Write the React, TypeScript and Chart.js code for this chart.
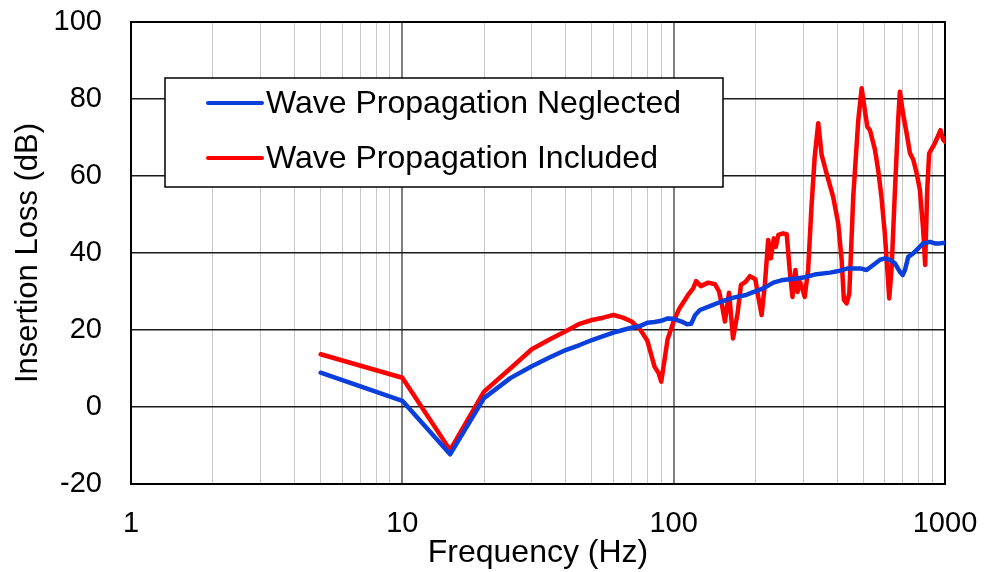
import React, { useEffect, useRef } from "react";
import { Chart, registerables } from "chart.js";

Chart.register(...registerables);

// Frequency response, wave propagation neglected (blue)
const neglectedFreq = [
  5, 10, 15, 20, 25, 30, 35, 40, 45, 50, 55, 60, 65, 70, 75, 80, 85, 90, 95, 100,
  107, 112, 116, 120, 125, 136, 150, 166, 185, 191, 214, 233, 253, 284, 304, 336,
  377, 410, 439, 486, 514, 544, 575, 600, 626, 654, 682, 698, 712, 732, 763, 797,
  831, 880, 918, 958, 1000,
];
const neglectedLoss = [
  8.9, 1.6, -12.3, 2.3, 7.5, 10.6, 12.9, 14.8, 16.1, 17.4, 18.4, 19.3, 20.0, 20.6, 21.0, 21.9, 22.1, 22.4, 23.0, 22.9,
  22.2, 21.5, 21.6, 23.9, 25.2, 26.2, 27.4, 28.4, 29.1, 29.5, 30.8, 32.3, 33.0, 33.4, 33.7, 34.5,
  34.9, 35.4, 36.0, 36.0, 35.6, 36.9, 38.2, 38.6, 38.2, 37.3, 35.1, 34.3, 35.6, 39.0, 39.9, 41.2,
  42.5, 42.9, 42.5, 42.5, 42.7,
];

// Frequency response, wave propagation included (red)
const includedFreq = [
  5, 10, 15, 20, 25, 30, 35, 40, 45, 50, 55, 60, 65, 70, 75, 80, 85, 88, 90, 95,
  100, 105, 113, 118, 121, 126, 134, 142, 147, 151, 154.5, 160, 165.5, 172, 177, 184, 191, 200,
  205, 211, 217, 223, 228, 234, 238, 243, 253, 261, 267, 274, 281, 286, 292, 298,
  304, 313, 322, 331, 341, 351, 366, 387, 404, 416, 424, 434, 444, 459, 479, 493,
  517, 529, 552, 567, 583, 600, 612, 623, 636, 654, 672, 682, 700, 722, 743, 764,
  786, 808, 831, 845, 860, 874, 917, 963, 985, 1000,
];
const includedLoss = [
  13.7, 7.6, -11.2, 4.0, 10.0, 15.0, 17.6, 19.7, 21.6, 22.6, 23.2, 23.9, 23.2, 22.2, 20.3, 17.2, 10.5, 8.8, 6.6, 17.6,
  22.3, 25.6, 29.1, 30.8, 32.7, 31.4, 32.3, 31.9, 30.0, 26.1, 22.2, 29.7, 17.8, 24.3, 31.7, 32.5, 34.0, 33.2,
  28.6, 23.9, 32.1, 43.4, 38.6, 43.8, 41.6, 44.7, 45.1, 44.9, 36.4, 28.6, 35.6, 29.9, 32.5, 30.8,
  28.6, 35.6, 52.0, 65.0, 73.7, 65.5, 60.7, 54.6, 47.7, 38.2, 27.8, 26.9, 29.5, 54.6, 74.5, 82.8,
  72.8, 71.9, 66.8, 61.6, 54.6, 45.1, 36.4, 28.2, 36.4, 56.4, 74.5, 81.9, 76.3, 71.1, 65.9, 64.2,
  60.7, 56.4, 46.0, 36.9, 56.4, 65.9, 68.5, 71.9, 69.4, 68.9,
];

const seriesLabels = ["Wave Propagation Neglected", "Wave Propagation Included"];
const seriesColors = ["#0A3FDD", "#FF0000"];

// Axis ranges and labelled ticks
const xLabelledTicks = [1, 10, 100, 1000];
const yMin = -20;
const yMax = 100;
const yStep = 20;

const FONT = "'Liberation Sans', Arial, sans-serif";

const toPoints = (xs: number[], ys: number[]) => xs.map((x, i) => ({ x, y: ys[i] }));

// Drop the automatic label-overflow padding so the layout padding alone sets the plot area
const noAutoPadding = (scale: any) => {
  scale.paddingTop = 0;
  scale.paddingBottom = 0;
  scale.paddingLeft = 0;
  scale.paddingRight = 0;
};

// Black frame around the plot area
const plotFrame = {
  id: "plotFrame",
  beforeDatasetsDraw(chart: any) {
    const { ctx, chartArea } = chart;
    ctx.save();
    ctx.strokeStyle = "#000";
    ctx.lineWidth = 2;
    ctx.strokeRect(chartArea.left, chartArea.top, chartArea.right - chartArea.left, chartArea.bottom - chartArea.top);
    ctx.restore();
  },
};

// Boxed legend sitting inside the plot area
const insetLegend = {
  id: "insetLegend",
  afterDraw(chart: any) {
    const { ctx } = chart;
    const box = { x: 165, y: 78, w: 558, h: 109 };
    ctx.save();
    ctx.fillStyle = "#fff";
    ctx.fillRect(box.x, box.y, box.w, box.h);
    ctx.strokeStyle = "#000";
    ctx.lineWidth = 1.5;
    ctx.strokeRect(box.x, box.y, box.w, box.h);
    ctx.font = `32px ${FONT}`;
    ctx.textBaseline = "middle";
    ctx.textAlign = "left";
    const rows = [103, 158];
    chart.data.datasets.forEach((ds: any, i: number) => {
      const y = rows[i];
      ctx.strokeStyle = ds.borderColor;
      ctx.lineWidth = 4;
      ctx.lineCap = "round";
      ctx.beginPath();
      ctx.moveTo(208, y);
      ctx.lineTo(262, y);
      ctx.stroke();
      ctx.fillStyle = "#000";
      ctx.fillText(ds.label, 266, y + 1);
    });
    ctx.restore();
  },
};

export default function App() {
  const canvasRef = useRef<HTMLCanvasElement | null>(null);

  useEffect(() => {
    const canvas = canvasRef.current;
    if (!canvas) return;

    const lineStyle = {
      borderWidth: 4.5,
      pointRadius: 0,
      tension: 0,
      borderJoinStyle: "round" as const,
      borderCapStyle: "round" as const,
    };

    const chart = new Chart(canvas, {
      type: "line",
      data: {
        datasets: [
          {
            label: seriesLabels[0],
            data: toPoints(neglectedFreq, neglectedLoss),
            borderColor: seriesColors[0],
            backgroundColor: seriesColors[0],
            ...lineStyle,
          },
          {
            label: seriesLabels[1],
            data: toPoints(includedFreq, includedLoss),
            borderColor: seriesColors[1],
            backgroundColor: seriesColors[1],
            ...lineStyle,
          },
        ],
      },
      options: {
        responsive: false,
        animation: false,
        devicePixelRatio: 1,
        layout: { padding: { top: 22, right: 41, left: 0, bottom: 0 } },
        plugins: {
          legend: { display: false },
          tooltip: { enabled: false },
        },
        scales: {
          x: {
            type: "logarithmic",
            min: 1,
            max: 1000,
            afterBuildTicks(scale: any) {
              const ticks: { value: number }[] = [];
              for (let d = 1; d < 1000; d *= 10) {
                for (let m = 1; m < 10; m++) ticks.push({ value: m * d });
              }
              ticks.push({ value: 1000 });
              scale.ticks = ticks;
            },
            afterFit(scale: any) {
              scale.height = 88;
              noAutoPadding(scale);
            },
            grid: {
              drawTicks: false,
              color: (c: any) => (xLabelledTicks.includes(c.tick?.value) ? "#7f7f7f" : "#c8c8c8"),
              lineWidth: (c: any) => (xLabelledTicks.includes(c.tick?.value) ? 2 : 1),
            },
            border: { display: false },
            ticks: {
              autoSkip: false,
              maxRotation: 0,
              padding: 23,
              color: "#000",
              font: { family: FONT, size: 29 },
              callback: (v: any) => (xLabelledTicks.includes(Number(v)) ? String(v) : ""),
            },
            title: {
              display: true,
              text: "Frequency (Hz)",
              color: "#000",
              font: { family: FONT, size: 32 },
              padding: { top: 0, bottom: 0 },
            },
          },
          y: {
            min: yMin,
            max: yMax,
            afterFit(scale: any) {
              scale.width = 131;
              noAutoPadding(scale);
            },
            grid: {
              drawTicks: false,
              color: "#1a1a1a",
              lineWidth: 1.5,
            },
            border: { display: false },
            ticks: {
              stepSize: yStep,
              padding: 29,
              color: "#000",
              font: { family: FONT, size: 29 },
            },
            title: {
              display: true,
              text: "Insertion Loss (dB)",
              color: "#000",
              font: { family: FONT, size: 31 },
              padding: { top: 10, bottom: 0 },
            },
          },
        },
      },
      plugins: [plotFrame, insetLegend],
    });

    return () => chart.destroy();
  }, []);

  return (
    <div style={{ position: "fixed", left: 0, top: 0, width: 986, height: 572, background: "#fff" }}>
      <canvas ref={canvasRef} width={986} height={572} style={{ width: 986, height: 572, display: "block" }} />
    </div>
  );
}
